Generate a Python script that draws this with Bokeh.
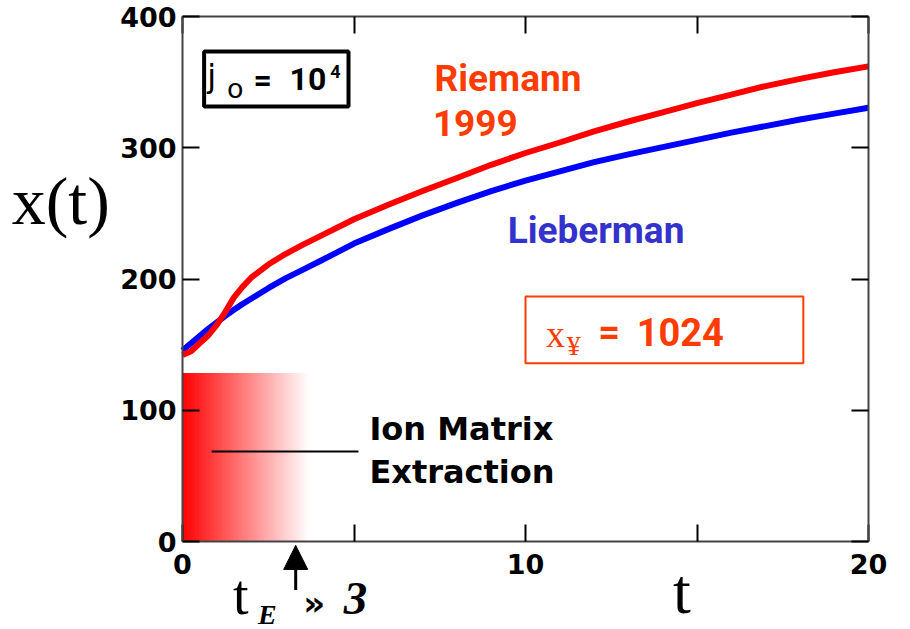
import numpy as np
from bokeh.plotting import figure
from bokeh.models import (Label, Arrow, NormalHead, LinearAxis, FixedTicker,
                          Range1d, BoxAnnotation, ColumnDataSource)
from bokeh.embed import file_html
from bokeh.resources import INLINE

# ---------------- data ----------------
t = [0, 0.25, 0.5, 0.75, 1, 1.25, 1.5, 1.75, 2, 2.5, 3, 3.5, 4, 5, 6, 7, 8, 9, 10,
     11, 12, 13, 14, 15, 16, 17, 18, 19, 20]
riemann = [142, 145, 151, 157, 165, 175, 186, 194, 201, 211, 219, 226, 232.5, 245.5, 256.5,
           267, 277, 287, 296, 304, 312.5, 320, 327, 334, 340.5, 347, 352.5, 357.5, 362]
lieberman = [145.5, 151, 156.5, 162, 167, 172, 176.5, 181, 185, 193, 200.5, 207, 213.5, 227,
             238, 248.5, 258, 267, 275, 282, 289, 295, 300.5, 306, 311.5, 316.5, 321.5,
             326, 330.5]
x_ticks = [0, 5, 10, 15, 20]
x_tick_labels = {0: "0", 5: "", 10: "10", 15: "", 20: "20"}
y_ticks = [0, 100, 200, 300, 400]
t_extraction = 3.3          # t_E ~ 3 (arrow)
extraction_fade_end = 3.7   # where the red extraction band fades to white
extraction_top = 128

# ---------------- figure ----------------
# the frame covers the whole canvas; axes are drawn at fixed locations so that
# the annotations outside the data box are not clipped
PX_X = 34.3      # pixels per unit t
PX_Y = 1.3125    # pixels per unit x
W, H = 910, 629
X0, Y0 = 182, 541
p = figure(width=W, height=H,
           x_range=Range1d(-X0 / PX_X, (W - X0) / PX_X),
           y_range=Range1d(-(H - Y0) / PX_Y, Y0 / PX_Y),
           output_backend="svg", toolbar_location=None,
           min_border=0, min_border_left=0, min_border_right=0,
           min_border_top=0, min_border_bottom=0)
p.xgrid.visible = False
p.ygrid.visible = False
p.outline_line_color = None
p.background_fill_color = "white"
p.border_fill_color = "white"

for ax in (p.xaxis[0], p.yaxis[0]):
    ax.axis_line_color = "#444444"
    ax.axis_line_width = 2
    ax.major_tick_in = 17
    ax.major_tick_out = 0
    ax.major_tick_line_color = "black"
    ax.major_tick_line_width = 2
    ax.minor_tick_line_color = None
    ax.major_label_text_font = "DejaVu Sans"
    ax.major_label_text_font_style = "bold"
    ax.major_label_text_font_size = "27px"
    ax.major_label_text_color = "black"

p.xaxis.ticker = FixedTicker(ticks=x_ticks)
p.xaxis.major_label_overrides = x_tick_labels
p.xaxis.major_label_standoff = 12
p.xaxis.fixed_location = 0
p.xaxis.bounds = (0, 20)
p.yaxis.ticker = FixedTicker(ticks=y_ticks)
p.yaxis.major_label_standoff = 6
p.yaxis.fixed_location = 0
p.yaxis.bounds = (0, 400)

def mirror_axis(ticks, loc, bounds):
    return LinearAxis(ticker=FixedTicker(ticks=ticks), major_tick_in=17, major_tick_out=0,
                      major_tick_line_color="black", major_tick_line_width=2,
                      minor_tick_line_color=None, axis_line_color="#444444",
                      axis_line_width=2, major_label_text_font_size="1px",
                      major_label_text_color=None, major_label_standoff=0,
                      fixed_location=loc, bounds=bounds)

p.add_layout(mirror_axis(x_ticks, 400, (0, 20)), "above")
p.add_layout(mirror_axis(y_ticks, 20, (0, 400)), "right")

# ---------------- extraction gradient band ----------------
n = 80
edges = np.linspace(0, extraction_fade_end, n + 1)
cols = []
for i in range(n):
    f = (i + 0.5) / n
    g = int(round(255 * f))
    cols.append("#ff%02x%02x" % (g, g))
p.quad(left=edges[:-1], right=edges[1:], bottom=0, top=extraction_top,
       fill_color=cols, line_color=cols, line_width=1)

# leader line
p.line([0.85, 5.13], [68.6, 68.6], line_color="black", line_width=2)

# ---------------- curves ----------------
src = ColumnDataSource(dict(t=t, r=riemann, l=lieberman))
p.line("t", "l", source=src, line_color="#0000ff", line_width=6, line_join="round")
p.line("t", "r", source=src, line_color="#ff0000", line_width=6, line_join="round")

# ---------------- boxes ----------------
p.add_layout(BoxAnnotation(left=0.63, right=4.84, top=373.3, bottom=331.4,
                           fill_alpha=0, line_color="black", line_width=4, line_alpha=1))
p.add_layout(BoxAnnotation(left=10.0, right=18.1, top=186.7, bottom=135.8,
                           fill_alpha=0, line_color="#ff3c00", line_width=2, line_alpha=1))

def lab(x, y, text, font, size, color="black", style="normal"):
    # y is the baseline; compensate the renderer's baseline shift
    y_adj = y + 0.36 * size / PX_Y
    p.add_layout(Label(x=x, y=y_adj, text=text, text_font=font, text_font_size="%dpx" % size,
                       text_font_style=style, text_color=color,
                       text_align="left", text_baseline="alphabetic"))

orange = "#ff3c00"
blue = "#3333cc"
lab(7.35, 342.3, "Riemann", "Roboto", 37, orange, "bold")
lab(7.3, 308.6, "1999", "Roboto", 37, orange, "bold")
lab(9.48, 226.8, "Lieberman", "Roboto", 37, blue, "bold")
lab(5.45, 77, "Ion Matrix", "DejaVu Sans", 32, "black", "bold")
lab(5.45, 44.2, "Extraction", "DejaVu Sans", 32, "black", "bold")

# j_0 = 10^4
lab(0.72, 345.9, "j", "DejaVu Sans", 32)
lab(1.3, 337.5, "o", "DejaVu Sans", 27)
lab(2.07, 342.9, "=", "Roboto", 32, "black", "bold")
lab(3.12, 343.6, "10", "Roboto", 32, "black", "bold")
lab(4.31, 352.8, "4", "Roboto", 18, "black", "bold")

# x_inf = 1024
lab(10.6, 147.5, "x", "Liberation Serif", 38, orange)
lab(11.2, 141.5, "¥", "Liberation Serif", 28, orange)
lab(12.12, 149.3, "=", "Roboto", 38, orange, "bold")
lab(13.24, 149.3, "1024", "Roboto", 38, orange, "bold")

# axis titles
lab(-4.98, 240.8, "x(t)", "Liberation Serif", 68)
lab(14.3, -55.6, "t", "Liberation Serif", 64)

# t_E >> 3
lab(1.47, -56.4, "t", "Liberation Serif", 56)
lab(2.2, -63.5, "E", "Liberation Serif", 28, "black", "bold italic")
lab(3.52, -56.0, "»", "DejaVu Sans", 34, "black", "bold")
lab(4.7, -56.4, "3", "Liberation Serif", 47, "black", "bold italic")

p.add_layout(Arrow(end=NormalHead(size=24, fill_color="black", line_color="black"),
                   x_start=t_extraction, y_start=-37, x_end=t_extraction, y_end=-3,
                   line_color="black", line_width=3))

open("out.html", "w").write(file_html(p, INLINE))
